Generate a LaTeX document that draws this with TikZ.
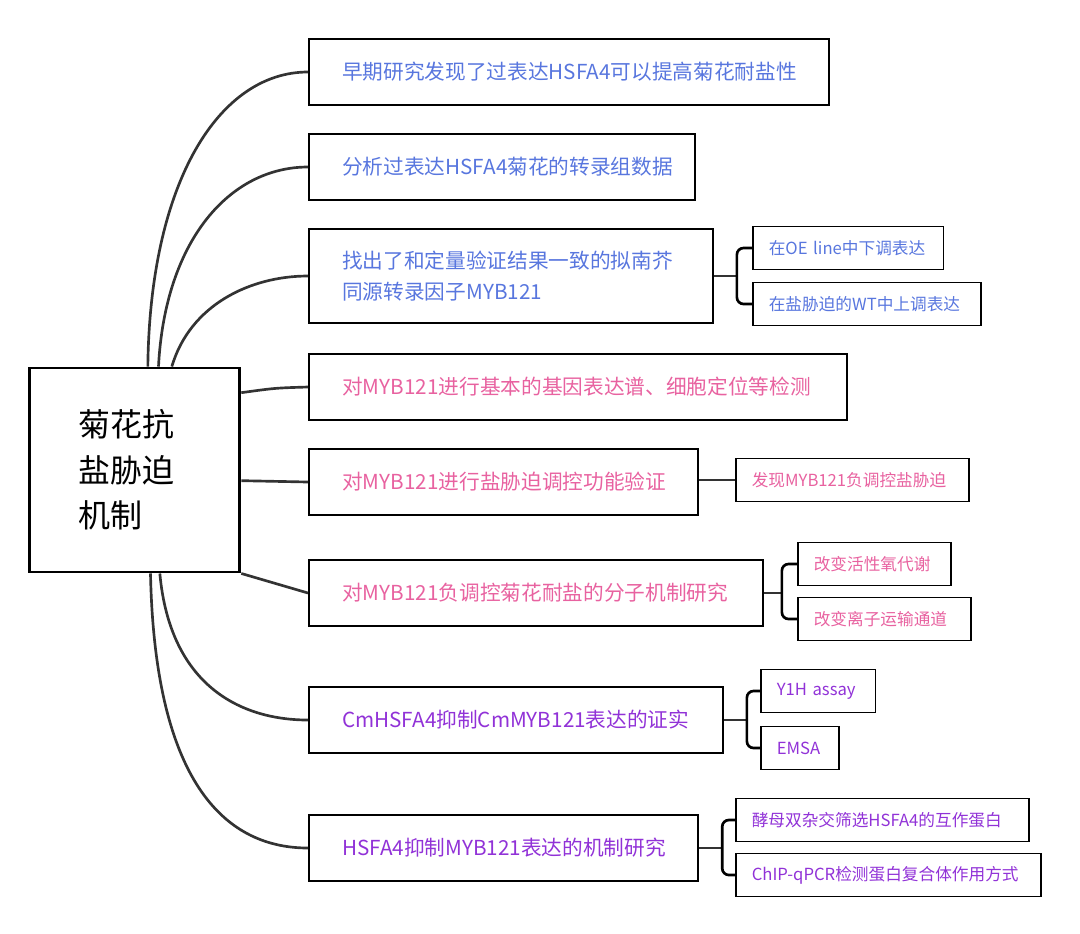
\documentclass[tikz,border=0pt]{standalone}
\usepackage{fontspec}
\setmainfont{Noto Sans CJK SC}
\usetikzlibrary{positioning}

\definecolor{txtblue}{RGB}{88,118,222}
\definecolor{txtpink}{RGB}{232,98,160}
\definecolor{txtpurple}{RGB}{145,50,215}

\tikzset{
  rootbox/.style={draw=black, line width=2.2pt, text width=84.5pt, inner xsep=36.75pt,
    minimum height=153pt, align=left, font=\fontsize{24}{34}\selectfont},
  branch/.style={draw=black, line width=1.4pt, anchor=west, minimum height=49pt,
    inner xsep=25pt, align=left, font=\fontsize{15.5}{23}\selectfont},
  leaf/.style={draw=black, line width=1.2pt, anchor=west, minimum height=32pt,
    inner xsep=12pt, align=left, font=\fontsize{12.5}{15}\selectfont},
  link/.style={draw=black!80, line width=2pt},
  fork/.style={draw=black, line width=2pt, rounded corners=5pt}
}

\begin{document}
\begin{tikzpicture}[x=0.75pt, y=-0.75pt]
\useasboundingbox (0,0) rectangle (1080,933);

% centre
\node[rootbox] (root) at (134.5,470)
  {菊花抗\\盐胁迫\\机制};

% main branches
\node[branch, text=txtblue, text width=340pt] (b1) at (308,72)
  {早期研究发现了过表达HSFA4可以提高菊花耐盐性};
\node[branch, text=txtblue, text width=239.5pt] (b2) at (308,167)
  {分析过表达HSFA4菊花的转录组数据};
\node[branch, text=txtblue, text width=253pt, minimum height=71pt] (b3) at (308,276)
  {找出了和定量验证结果一致的拟南芥\\同源转录因子MYB121};
\node[branch, text=txtpink, text width=353.5pt] (b4) at (308,387)
  {对MYB121进行基本的基因表达谱、细胞定位等检测};
\node[branch, text=txtpink, text width=242pt] (b5) at (308,482)
  {对MYB121进行盐胁迫调控功能验证};
\node[branch, text=txtpink, text width=290.5pt] (b6) at (308,593)
  {对MYB121负调控菊花耐盐的分子机制研究};
\node[branch, text=txtpurple, text width=260.5pt] (b7) at (308,720)
  {CmHSFA4抑制CmMYB121表达的证实};
\node[branch, text=txtpurple, text width=242pt] (b8) at (308,848)
  {HSFA4抑制MYB121表达的机制研究};

% leaves
\node[leaf, text=txtblue, text width=119pt] (s3a) at (752,248)
  {在OE line中下调表达};
\node[leaf, text=txtblue, text width=147pt] (s3b) at (752,304)
  {在盐胁迫的WT中上调表达};
\node[leaf, text=txtpink, text width=151pt] (s5) at (735,480)
  {发现MYB121负调控盐胁迫};
\node[leaf, text=txtpink, text width=91pt] (s6a) at (797,564)
  {改变活性氧代谢};
\node[leaf, text=txtpink, text width=106pt] (s6b) at (797,619)
  {改变离子运输通道};
\node[leaf, text=txtpurple, text width=62pt] (s7a) at (760,691)
  {Y1H assay};
\node[leaf, text=txtpurple, text width=34.5pt] (s7b) at (760,748)
  {EMSA};
\node[leaf, text=txtpurple, text width=196pt] (s8a) at (735,820)
  {酵母双杂交筛选HSFA4的互作蛋白};
\node[leaf, text=txtpurple, text width=205pt] (s8b) at (735,875)
  {ChIP-qPCR检测蛋白复合体作用方式};

% curves from the centre
\draw[link] ([xshift=10pt]root.north) .. controls (150,180) and (220,72) .. (b1.west);
\draw[link] ([xshift=18pt]root.north) .. controls (165,240) and (230,167) .. (b2.west);
\draw[link] ([xshift=28pt]root.north) .. controls (190,305) and (250,276) .. (b3.west);
\draw[link] ([yshift=58pt]root.east) .. controls (275,388) .. (b4.west);
\draw[link] ([yshift=-8pt]root.east) -- (b5.west);
\draw[link] (root.south east) .. controls (275,584) .. (b6.west);
\draw[link] ([xshift=19pt]root.south) .. controls (170,685) and (240,720) .. (b7.west);
\draw[link] ([xshift=12pt]root.south) .. controls (155,790) and (230,848) .. (b8.west);

% forks to the leaves
\draw[link] (b3.east) -- ++(23,0) coordinate (j3);
\draw[fork] (s3a.west) -- (s3a.west -| j3) -- (s3b.west -| j3) -- (s3b.west);
\draw[link] (b5.east |- s5.west) -- (s5.west);
\draw[link] (b6.east) -- ++(18,0) coordinate (j6);
\draw[fork] (s6a.west) -- (s6a.west -| j6) -- (s6b.west -| j6) -- (s6b.west);
\draw[link] (b7.east) -- ++(23,0) coordinate (j7);
\draw[fork] (s7a.west) -- (s7a.west -| j7) -- (s7b.west -| j7) -- (s7b.west);
\draw[link] (b8.east) -- ++(23,0) coordinate (j8);
\draw[fork] (s8a.west) -- (s8a.west -| j8) -- (s8b.west -| j8) -- (s8b.west);

\end{tikzpicture}
\end{document}
